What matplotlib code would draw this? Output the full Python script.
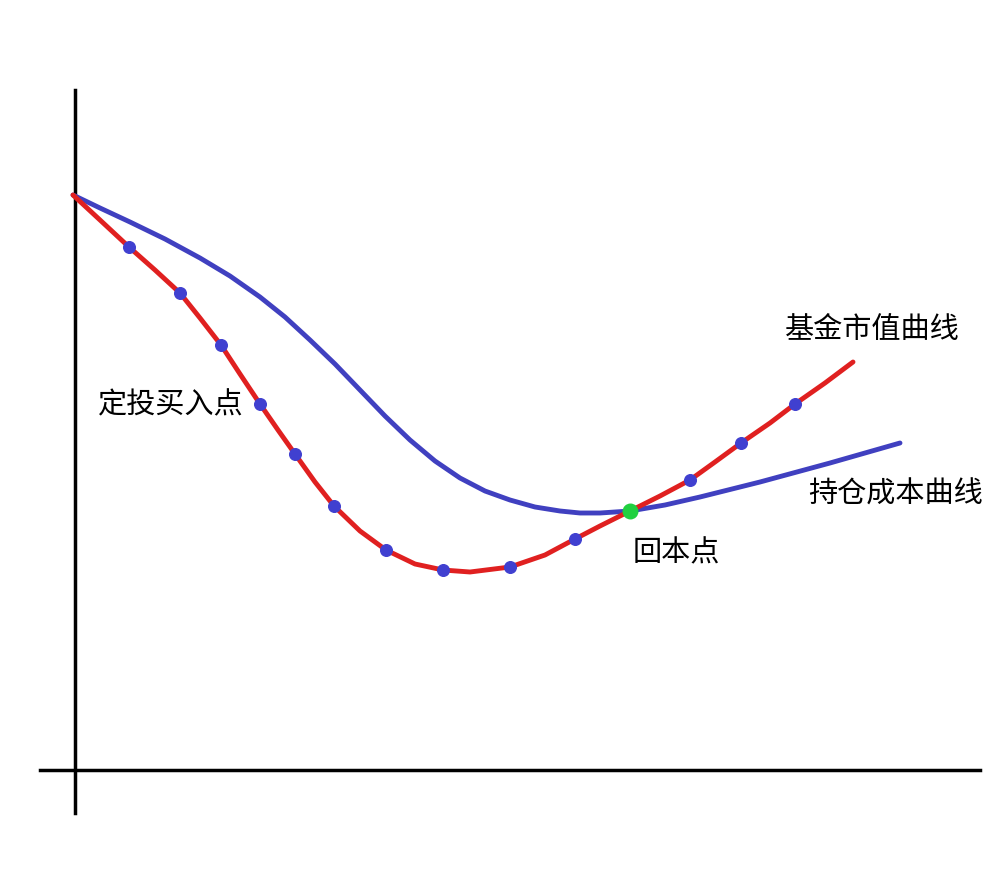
import matplotlib.pyplot as plt

plt.rcParams['font.family'] = ['Noto Sans CJK SC', 'DejaVu Sans']

# 图中坐标（像素，y 向下）
market_x = [73, 100, 129, 155, 180, 200, 221, 240, 260, 278, 295, 315, 334, 360, 386, 415, 443, 470, 510, 545, 575, 600, 630, 660, 690, 715, 741, 770, 795, 825, 853]
market_y = [195, 220, 247, 270, 293, 318, 345, 374, 404, 430, 454, 482, 506, 531, 550, 564, 570, 572, 567, 555, 539, 526, 511, 496, 480, 462, 443, 423, 404, 383, 362]

cost_x = [73, 100, 130, 165, 200, 230, 260, 285, 310, 335, 360, 385, 410, 435, 460, 485, 510, 535, 560, 580, 600, 630, 665, 700, 760, 830, 900]
cost_y = [195, 208, 222, 239, 258, 276, 297, 317, 340, 364, 390, 416, 440, 461, 478, 491, 500, 507, 511, 513, 513, 511, 505, 497, 482, 463, 443]

buy_x = [129, 180, 221, 260, 295, 334, 386, 443, 510, 575, 690, 741, 795]
buy_y = [247, 293, 345, 404, 454, 506, 550, 570, 567, 539, 480, 443, 404]

breakeven = (630, 511)

fig = plt.figure(figsize=(10, 8.92), dpi=100)
ax = fig.add_axes([0, 0, 1, 1])
ax.set_xlim(0, 1000)
ax.set_ylim(892, 0)
ax.axis('off')

# 坐标轴
ax.plot([75, 75], [90, 813], color='black', lw=2.5)
ax.plot([40, 980], [770, 770], color='black', lw=2.5)

ax.plot(cost_x, cost_y, color='#4040c0', lw=3.5, solid_capstyle='round', solid_joinstyle='round')
ax.plot(market_x, market_y, color='#e02020', lw=3.5, solid_capstyle='round', solid_joinstyle='round')
ax.scatter(buy_x, buy_y, s=70, color='#4040d0', zorder=5)
ax.scatter([breakeven[0]], [breakeven[1]], s=110, color='#20d040', zorder=6)

ax.text(785, 330, '基金市值曲线', fontsize=21, va='center')
ax.text(808, 495, '持仓成本曲线', fontsize=21, va='center')
ax.text(98, 405, '定投买入点', fontsize=21, va='center')
ax.text(633, 553, '回本点', fontsize=21, va='center')

fig.savefig('out.png', dpi=100)
